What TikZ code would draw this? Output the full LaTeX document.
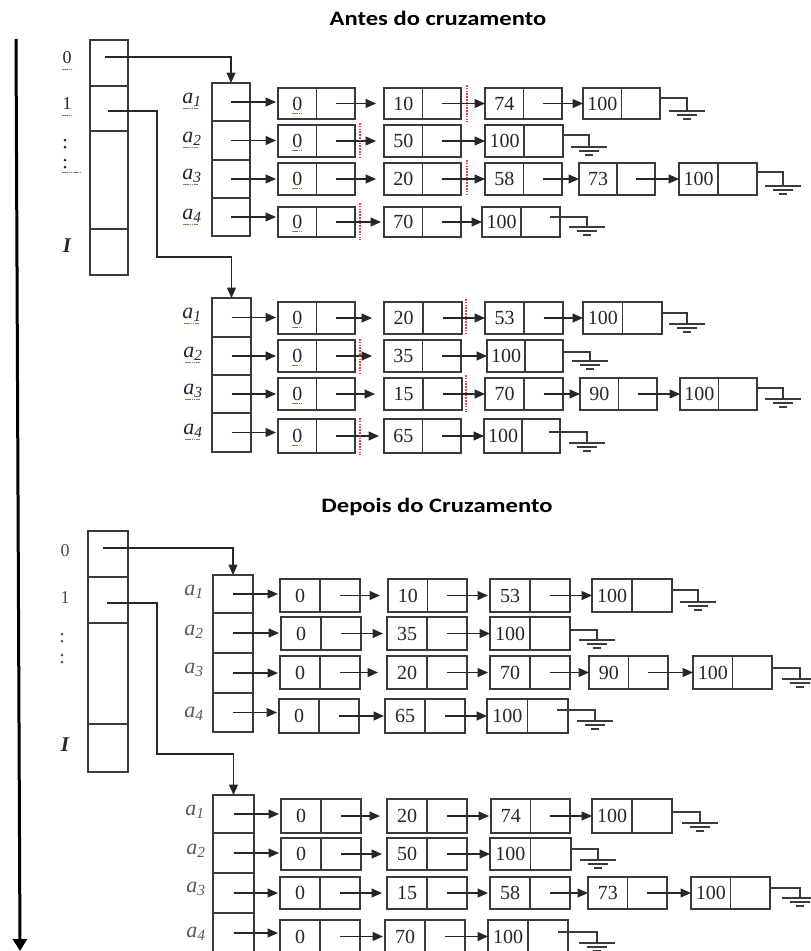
\documentclass[tikz,border=0pt]{standalone}
\usepackage{fontspec}
\setmainfont{Liberation Serif}
\newfontfamily\titlefont{Carlito}
\usetikzlibrary{arrows.meta,calc}
\definecolor{ln}{HTML}{3A3A3A}
\definecolor{txt}{HTML}{262626}
\definecolor{spellc}{HTML}{5A9A3C}
\definecolor{redd}{HTML}{EE3A4E}
\tikzset{
 cell/.style={draw=ln, line width=1.35pt, inner sep=0pt, outer sep=0pt, rectangle},
 lnode/.style={cell, path picture={\draw[ln, line width=1.35pt] (path picture bounding box.north) -- (path picture bounding box.south);}},
 num/.style={font=\fontsize{20}{20}\selectfont, text=txt, inner sep=0pt},
 lab/.style={font=\fontsize{22}{22}\selectfont, text=black!85, inner sep=0pt},
 glab/.style={font=\fontsize{22}{22}\selectfont, text=black!65, inner sep=0pt},
 idx/.style={font=\fontsize{18}{18}\selectfont, text=txt, inner sep=0pt},
 arr/.style={draw=black!85, line width=1.35pt, -{Triangle[length=10.5pt,width=9pt]}},
 wire/.style={draw=ln, line width=1.3pt},
 cutl/.style={draw=redd, line width=2pt, dash pattern=on 1.5pt off 1.3pt},
 spell/.style={draw=spellc, line width=1pt, dash pattern=on 1.5pt off 0.7pt},
 ttl/.style={font=\titlefont\bfseries\fontsize{20.5}{20.5}\selectfont, text=black, inner sep=0pt},
}
\newcommand\CELL[5]{\node[cell, minimum width={#3pt-#2pt}, minimum height={#5pt-#4pt}] (#1) at ({(#2+#3)/2},{(#4+#5)/2}) {};}
\newcommand\LN[6]{\node[lnode, minimum width={#3pt-#2pt}, minimum height={#5pt-#4pt}] (#1) at ({(#2+#3)/2},{(#4+#5)/2}) {};
 \node[num] (#1t) at ($(#1.west)!0.5!(#1.center)$) {#6};}
\newcommand\AR[3][1]{\draw[arr, shorten >=#1pt] ($(#2.center)!0.5!(#2.east)$) -- (#3.west);}
\newcommand\RA[3][2]{\draw[arr, shorten >=#1pt] (#2.center) -- (#2.center -| #3.west);}
\newcommand\GND[5]{\coordinate (#1) at (#4,#5);
 \draw[wire] (#2 |- 0,#3) -| (#1);
 \draw[wire] ($(#1)+(-18,0)$) -- ($(#1)+(18,0)$) ($(#1)+(-10,4)$) -- ($(#1)+(10,4)$) ($(#1)+(-4,8)$) -- ($(#1)+(4,8)$);}
\newcommand\CUT[3]{\draw[cutl] (#1,#2) -- (#1,#3);}
\newcommand\SPL[3]{\draw[spell] (#1,#3) -- (#2,#3);}
\newcommand\SPU[1]{\draw[spell] ($(#1.south west)+(0,3)$) -- ($(#1.south east)+(0,3)$);}
\newcommand\alab[1]{\textit{a}\textsubscript{\textit{#1}}}
\begin{document}
\begin{tikzpicture}[x=1pt,y=-1pt]
\useasboundingbox (0,0) rectangle (811,951);
\clip (0,0) rectangle (811,951);
\fill[white] (0,0) rectangle (811,951);

% titles
\node[ttl] (title1) at (438,18) {\scalebox{1.2}[1]{Antes do cruzamento}};
\node[ttl] (title2) at (437,507) {\scalebox{1.2}[1]{Depois do Cruzamento}};

% time axis
\draw[line width=3pt, black, -{Triangle[length=12pt,width=14pt]}] (16,39) -- (20,951);

% ===== top index column =====
\CELL{t0}{90}{128}{40}{86}
\CELL{t1}{90}{128}{86}{131}
\CELL{t2}{90}{128}{131}{229}
\CELL{t3}{90}{128}{229}{275}
\draw[ln, line width=2.4pt] (t3.north west) -- (t3.north east);
\node[idx] (l0) at (67,58) {0}; \SPL{62}{72}{69}
\node[idx] (l1) at (67,104) {1}; \SPL{62}{72}{115}
\foreach \yy in {140,147,160,167} \fill[txt] (65,\yy) circle (1.5);
\SPL{62}{81}{172}
\node[idx, font=\fontsize{21}{21}\selectfont\bfseries\itshape] (lI) at (67,246) {I};

% ===== group 1 =====
\CELL{g1a1}{212}{250}{83}{121}
\CELL{g1a2}{212}{250}{121}{160}
\CELL{g1a3}{212}{250}{160}{198}
\CELL{g1a4}{212}{250}{198}{236}
\node[lab] (g1l1) at (192,100) {\alab{1}}; \SPL{183}{198}{108}
\node[lab] (g1l2) at (192,139) {\alab{2}}; \SPL{183}{198}{147}
\node[lab] (g1l3) at (192,176) {\alab{3}}; \SPL{183}{198}{184}
\node[lab] (g1l4) at (192,216) {\alab{4}}; \SPL{183}{198}{224}
\draw[arr] ($(t0.center)+(-4,-6)$) -| (g1a1.north);

\LN{g1r1a}{278}{355}{88}{119}{0}\SPU{g1r1at}
\LN{g1r1b}{384}{461}{88}{119}{10}
\LN{g1r1c}{485}{562}{88}{119}{74}
\LN{g1r1d}{583}{660}{88}{119}{100}
\RA{g1a1}{g1r1a}
\AR[8]{g1r1a}{g1r1b}\AR[0]{g1r1b}{g1r1c}\AR[0]{g1r1c}{g1r1d}
\GND{g1r1g}{g1r1d.east}{98}{687}{111}
\CUT{467}{85}{122}

\LN{g1r2a}{278}{355}{125}{157}{0}\SPU{g1r2at}
\LN{g1r2b}{384}{461}{125}{157}{50}
\LN{g1r2c}{485}{563}{125}{157}{100}
\RA{g1a2}{g1r2a}
\AR[8]{g1r2a}{g1r2b}\AR[0]{g1r2b}{g1r2c}
\GND{g1r2g}{g1r2c.east}{135}{589}{147}
\CUT{360}{123}{158}

\LN{g1r3a}{278}{355}{163}{195}{0}\SPU{g1r3at}
\LN{g1r3b}{384}{461}{163}{195}{20}
\LN{g1r3c}{485}{562}{163}{195}{58}
\LN{g1r3d}{579}{655}{163}{195}{73}
\LN{g1r3e}{679}{757}{163}{195}{100}
\RA{g1a3}{g1r3a}
\AR[8]{g1r3a}{g1r3b}\AR[0]{g1r3b}{g1r3c}\AR[0]{g1r3c}{g1r3d}\AR[0]{g1r3d}{g1r3e}
\GND{g1r3g}{g1r3e.east}{172}{783}{186}
\CUT{467}{160}{196}

\LN{g1r4a}{278}{355}{207}{237}{0}\SPU{g1r4at}
\LN{g1r4b}{384}{461}{207}{237}{70}
\LN{g1r4c}{482}{560}{207}{237}{100}
\RA{g1a4}{g1r4a}
\AR[3]{g1r4a}{g1r4b}\AR[0]{g1r4b}{g1r4c}
\coordinate (g1r4s) at ($(g1r4c.center)!0.74!(g1r4c.east)$);
\GND{g1r4g}{g1r4s}{217}{587}{227}
\CUT{360}{203}{240}

% ===== group 2 =====
\coordinate (k1) at (157,257);
\CELL{g2a1}{212}{251}{298}{337}
\CELL{g2a2}{212}{251}{337}{375}
\CELL{g2a3}{212}{251}{375}{413}
\CELL{g2a4}{212}{251}{413}{452}
\draw[arr] ($(t1.center)+(-1,2.5)$) -| (k1) -| (g2a1.north);
\node[lab] (g2l1) at (192,315) {\alab{1}}; \SPL{184}{199}{323}
\node[lab] (g2l2) at (193,354) {\alab{2}}; \SPL{185}{200}{362}
\node[lab] (g2l3) at (193,391) {\alab{3}}; \SPL{185}{200}{399}
\node[lab] (g2l4) at (193,431) {\alab{4}}; \SPL{185}{200}{439}

\LN{g2r1a}{278}{355}{302}{334}{0}\SPU{g2r1at}
\LN{g2r1b}{384}{462}{302}{334}{20}
\LN{g2r1c}{485}{563}{302}{334}{53}
\LN{g2r1d}{583}{662}{302}{334}{100}
\RA{g2a1}{g2r1a}
\AR[12]{g2r1a}{g2r1b}\AR[0]{g2r1b}{g2r1c}\AR[0]{g2r1c}{g2r1d}
\GND{g2r1g}{g2r1d.east}{313}{687}{324}
\CUT{466}{299}{335}

\LN{g2r2a}{278}{355}{340}{372}{0}\SPU{g2r2at}
\LN{g2r2b}{384}{461}{340}{372}{35}
\LN{g2r2c}{487}{563}{340}{372}{100}
\RA{g2a2}{g2r2a}
\AR[12]{g2r2a}{g2r2b}\AR[0]{g2r2b}{g2r2c}
\GND{g2r2g}{g2r2c.east}{352}{590}{361}
\CUT{360}{339}{375}

\LN{g2r3a}{278}{355}{378}{410}{0}\SPU{g2r3at}
\LN{g2r3b}{384}{462}{378}{410}{15}
\LN{g2r3c}{485}{563}{378}{410}{70}
\LN{g2r3d}{580}{657}{378}{410}{90}
\LN{g2r3e}{680}{757}{378}{410}{100}
\RA{g2a3}{g2r3a}
\AR[9]{g2r3a}{g2r3b}\AR[0]{g2r3b}{g2r3c}\AR[0]{g2r3c}{g2r3d}\AR[0]{g2r3d}{g2r3e}
\GND{g2r3g}{g2r3e.east}{388}{783}{399}
\CUT{466}{375}{412}

\LN{g2r4a}{278}{355}{419}{453}{0}\SPU{g2r4at}
\LN{g2r4b}{384}{461}{419}{453}{65}
\LN{g2r4c}{484}{560}{419}{453}{100}
\RA{g2a4}{g2r4a}
\AR[5]{g2r4a}{g2r4b}\AR[0]{g2r4b}{g2r4c}
\coordinate (g2r4s) at ($(g2r4c.center)!0.71!(g2r4c.east)$);
\GND{g2r4g}{g2r4s}{432}{587}{443}
\CUT{360}{418}{455}

% ===== bottom index column =====
\CELL{b0}{88}{128}{531}{577}
\CELL{b1}{88}{128}{577}{623}
\CELL{b2}{88}{128}{623}{724}
\CELL{b3}{88}{128}{724}{772}
\draw[ln, line width=2.4pt] (b3.north west) -- (b3.north east);
\node[idx, text=black!70] (m0) at (65,551) {0};
\node[idx, text=black!70] (m1) at (65,598) {1};
\foreach \yy in {634,641,655,662} \fill[black!65] (62,\yy) circle (1.5);
\node[idx, font=\fontsize{21}{21}\selectfont\bfseries\itshape] (mI) at (65,745) {I};

% ===== group 3 =====
\CELL{g3a1}{213}{253}{575}{613}
\CELL{g3a2}{213}{253}{613}{653}
\CELL{g3a3}{213}{253}{653}{693}
\CELL{g3a4}{213}{253}{693}{732}
\draw[arr] ($(b0.center)+(-5,-6)$) -| (g3a1.north);
\node[glab] (g3l1) at (194,592) {\alab{1}};
\node[glab] (g3l2) at (194,632) {\alab{2}};
\node[glab] (g3l3) at (194,670) {\alab{3}};
\node[glab] (g3l4) at (194,714) {\alab{4}};

\LN{g3r1a}{280}{360}{579}{612}{0}
\LN{g3r1b}{388}{467}{579}{612}{10}
\LN{g3r1c}{490}{570}{579}{612}{53}
\LN{g3r1d}{592}{672}{579}{612}{100}
\RA{g3a1}{g3r1a}
\AR[8]{g3r1a}{g3r1b}\AR[2]{g3r1b}{g3r1c}\AR[0]{g3r1c}{g3r1d}
\GND{g3r1g}{g3r1d.east}{590}{698}{602}

\LN{g3r2a}{281}{361}{617}{650}{0}
\LN{g3r2b}{387}{467}{617}{650}{35}
\LN{g3r2c}{490}{570}{617}{650}{100}
\RA{g3a2}{g3r2a}
\AR[4]{g3r2a}{g3r2b}\AR[0]{g3r2b}{g3r2c}
\GND{g3r2g}{g3r2c.east}{630}{597}{640}

\LN{g3r3a}{280}{360}{656}{689}{0}
\LN{g3r3b}{387}{467}{656}{689}{20}
\LN{g3r3c}{490}{570}{656}{689}{70}
\LN{g3r3d}{589}{668}{656}{689}{90}
\LN{g3r3e}{693}{772}{656}{689}{100}
\RA{g3a3}{g3r3a}
\AR[9]{g3r3a}{g3r3b}\AR[2]{g3r3b}{g3r3c}\AR[0]{g3r3c}{g3r3d}\AR[0]{g3r3d}{g3r3e}
\GND{g3r3g}{g3r3e.east}{668}{800}{679}

\LN{g3r4a}{279}{359}{699}{733}{0}
\LN{g3r4b}{385}{465}{699}{733}{65}
\LN{g3r4c}{487}{568}{699}{733}{100}
\RA{g3a4}{g3r4a}
\AR[1]{g3r4a}{g3r4b}\AR[0]{g3r4b}{g3r4c}
\coordinate (g3r4s) at ($(g3r4c.center)!0.73!(g3r4c.east)$);
\GND{g3r4g}{g3r4s}{710}{595}{721}

% ===== group 4 =====
\coordinate (k2) at (157,754);
\CELL{g4a1}{213}{254}{795}{833}
\CELL{g4a2}{213}{254}{833}{873}
\CELL{g4a3}{213}{254}{873}{913}
\CELL{g4a4}{213}{254}{913}{953}
\draw[arr] ($(b1.center)+(-1,3)$) -| (k2) -| (g4a1.north);
\node[glab] (g4l1) at (195,812) {\alab{1}};
\node[glab] (g4l2) at (196,851) {\alab{2}};
\node[glab] (g4l3) at (196,889) {\alab{3}};
\node[glab] (g4l4) at (196,934) {\alab{4}};

\LN{g4r1a}{281}{361}{799}{833}{0}
\LN{g4r1b}{387}{467}{799}{833}{20}
\LN{g4r1c}{491}{570}{799}{833}{74}
\LN{g4r1d}{592}{672}{799}{833}{100}
\RA{g4a1}{g4r1a}
\AR[7]{g4r1a}{g4r1b}\AR[2]{g4r1b}{g4r1c}\AR[0]{g4r1c}{g4r1d}
\GND{g4r1g}{g4r1d.east}{812}{700}{823}

\LN{g4r2a}{281}{361}{838}{870}{0}
\LN{g4r2b}{387}{467}{838}{870}{50}
\LN{g4r2c}{490}{571}{838}{870}{100}
\RA{g4a2}{g4r2a}
\AR[5]{g4r2a}{g4r2b}\AR[0]{g4r2b}{g4r2c}
\GND{g4r2g}{g4r2c.east}{849}{598}{860}

\LN{g4r3a}{280}{360}{877}{909}{0}
\LN{g4r3b}{387}{467}{877}{909}{15}
\LN{g4r3c}{490}{570}{877}{909}{58}
\LN{g4r3d}{588}{667}{877}{909}{73}
\LN{g4r3e}{691}{770}{877}{909}{100}
\RA{g4a3}{g4r3a}
\AR[5]{g4r3a}{g4r3b}\AR[2]{g4r3b}{g4r3c}\AR[0]{g4r3c}{g4r3d}\AR[0]{g4r3d}{g4r3e}
\GND{g4r3g}{g4r3e.east}{888}{800}{898}

\LN{g4r4a}{280}{360}{920}{953}{0}
\LN{g4r4b}{385}{465}{920}{953}{70}
\LN{g4r4c}{488}{568}{920}{953}{100}
\RA{g4a4}{g4r4a}
\AR[2]{g4r4a}{g4r4b}\AR[0]{g4r4b}{g4r4c}
\coordinate (g4r4s) at ($(g4r4c.center)!0.75!(g4r4c.east)$);
\GND{g4r4g}{g4r4s}{932}{597}{943}
\end{tikzpicture}
\end{document}
